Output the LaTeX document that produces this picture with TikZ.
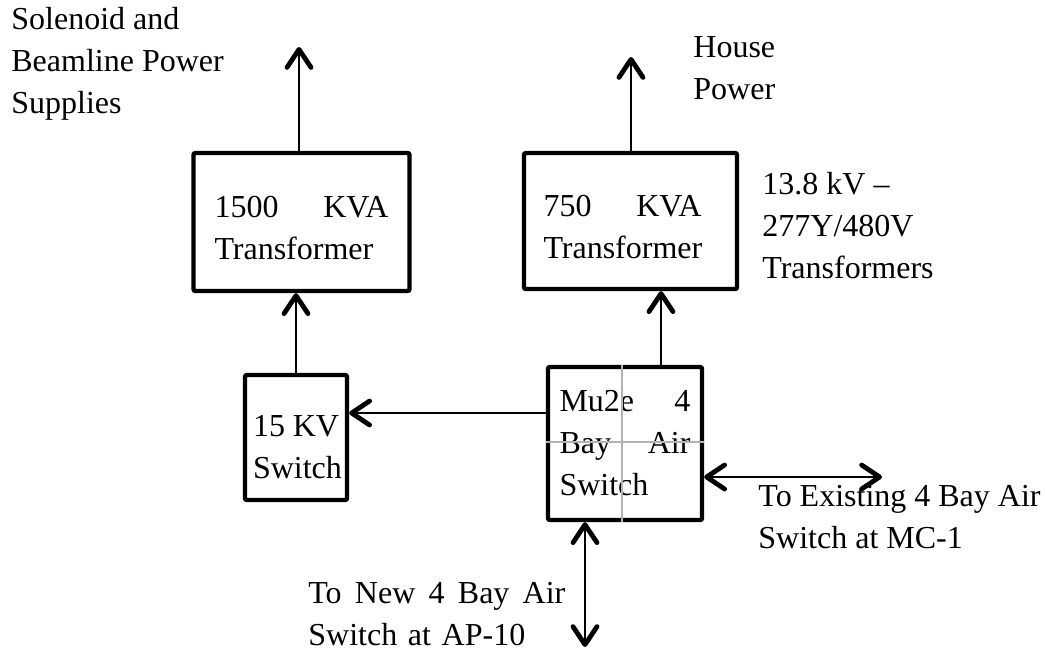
\documentclass[tikz,border=0pt]{standalone}
\usepackage{fontspec}
\setmainfont{Liberation Serif}
\usetikzlibrary{arrows.meta}
\newcommand\fsz{\fontsize{16}{21}\selectfont}
\newcommand\jline[2]{\leavevmode\hbox to #1{#2}}
\newcommand\upstrut[1]{\rule{0pt}{#1}}
\begin{document}
\begin{tikzpicture}[x=0.5pt,y=-0.5pt,
  box/.style={draw, line width=2.2pt, rounded corners=1pt, inner sep=0pt, align=left, font=\fsz},
  lbl/.style={inner sep=0pt, anchor=west, align=left, font=\fsz},
  tipb/.tip={Straight Barb[length=9pt,width=12pt,line width=2.4pt,round]},
  conn/.style={line width=1pt, -tipb},
  dconn/.style={line width=1pt, tipb-tipb},
  crossline/.style={gray!60, line width=0.6pt}]
\useasboundingbox (0,0) rectangle (1045,650);
% boxes
\node[box, minimum width=108pt, minimum height=69pt, text width=87pt] (T1) at (301.5,222)
  {\jline{87pt}{\upstrut{17pt}1500\hfill KVA}\\Transformer};
\node[box, minimum width=106.5pt, minimum height=68pt, text width=87pt] (T2) at (630.5,221)
  {\jline{79pt}{\upstrut{17pt}750\hfill KVA}\\Transformer};
\node[box, minimum width=51pt, minimum height=62.5pt, text width=43pt] (SW) at (296,437.5)
  {\jline{43pt}{\upstrut{20pt}15\hfill KV}\\Switch};
\node[box, minimum width=77pt, minimum height=76.5pt, text width=65.5pt] (MU) at (625,443.5)
  {\jline{65.5pt}{Mu2e\hfill 4}\\\jline{65.5pt}{Bay\hfill Air}\\Switch};
% grey cross inside the air switch
\coordinate (v1) at (622,442);
\draw[crossline] (MU.north -| v1) -- (MU.south -| v1);
\draw[crossline] (MU.west |- v1) -- (MU.east |- v1);
% labels
\node[lbl] (sol) at (11,64) {Solenoid and\\Beamline Power\\Supplies};
\node[lbl] (house) at (693,68) {House\\Power};
\node[lbl] (trf) at (762,226) {13.8 kV --\\277Y/480V\\Transformers};
\node[lbl] (exist) at (758,517) {To Existing 4 Bay Air\\Switch at MC-1};
\node[lbl, text width=128.5pt] (new) at (308,614) {\jline{128.5pt}{To\hfill New\hfill 4\hfill Bay\hfill Air}\\Switch at AP-10};
% coordinates for free ends
\coordinate (top1) at (299,47);
\coordinate (top2) at (631,57);
\coordinate (m2) at (661,300);
\coordinate (h1) at (0,413);
\coordinate (r1) at (882,477);
\coordinate (b1) at (585,647);
% connectors
\draw[conn] (T1.north -| top1) -- (top1);
\draw[conn] (T2.north -| top2) -- (top2);
\draw[conn] (SW.north) -- (SW.north |- T1.south);
\draw[conn] (MU.north -| m2) -- (T2.south -| m2);
\draw[conn] (MU.west |- h1) -- (SW.east |- h1);
\draw[dconn] (MU.east |- r1) -- (r1);
\draw[dconn] (MU.south -| b1) -- (b1);
\end{tikzpicture}
\end{document}
